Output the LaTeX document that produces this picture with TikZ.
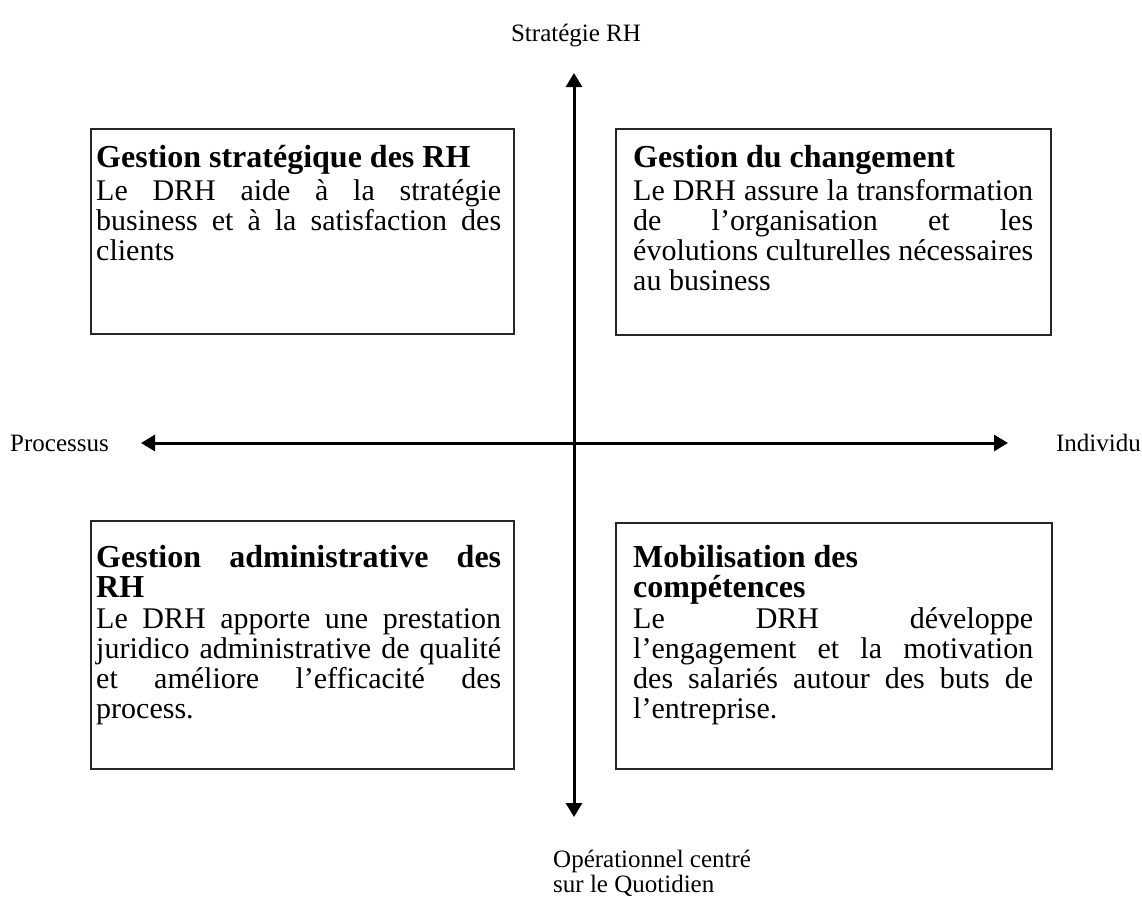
\documentclass[tikz,border=0pt]{standalone}
\usepackage{fontspec}
\setmainfont{Liberation Serif}
\usetikzlibrary{arrows.meta}
\newlength\qw
\newcommand\qj[1]{\makebox[\qw][s]{#1}\par}
\newcommand\ql[1]{\makebox[\qw][l]{#1}\par}
\newcommand\qtitle{\fontsize{32}{30}\selectfont\bfseries}
\newcommand\qbody{\fontsize{30}{30}\selectfont\mdseries}
\newcommand\qtext[2]{\setlength\qw{#1}\parbox[t]{\qw}{\lineskiplimit=-100pt\parskip=0pt\relax #2}}
\tikzset{
  qbox/.style={draw=black!85, line width=2pt, rectangle, inner sep=0pt, anchor=north west},
  qtxt/.style={inner sep=0pt, anchor=base west},
  axislabel/.style={inner sep=0pt, font=\fontsize{25}{28}\selectfont},
  axis/.style={line width=3pt, {Triangle[width=16pt,length=14pt]}-{Triangle[width=16pt,length=14pt]}}
}
\begin{document}
\begin{tikzpicture}[x=1pt,y=-1pt]
\useasboundingbox (0,0) rectangle (1142,900);
% axes
\coordinate (top) at (574,73);
\coordinate (bottom) at (574,817);
\coordinate (left) at (141,443);
\coordinate (right) at (1008,443);
\draw[axis] (bottom) -- (top);
\draw[axis] (left) -- (right);
% axis labels
\node[axislabel, anchor=base] (lstrat) at (576,41) {Stratégie RH};
\node[axislabel, anchor=base west] (lproc) at (10,451) {Processus};
\node[axislabel, anchor=base east] (lindiv) at (1141,451) {Individu};
\node[axislabel, anchor=base west, align=left] (lop) at (553,892) {Opérationnel centré\\[-3pt]sur le Quotidien};
% boxes
\node[qbox, minimum width=423pt, minimum height=205pt] (b1) at (90,128) {};
\node[qbox, minimum width=435pt, minimum height=206pt] (b2) at (615,128) {};
\node[qbox, minimum width=423pt, minimum height=248pt] (b3) at (90,520) {};
\node[qbox, minimum width=436pt, minimum height=246pt] (b4) at (615,522) {};
% box texts
\node[qtxt] (t1) at (96,167) {\qtext{405pt}{%
  {\qtitle\ql{Gestion stratégique des RH}}\vspace{3pt}
  {\qbody\qj{Le DRH aide à la stratégie}
  \qj{business et à la satisfaction des}
  \ql{clients}}}};
\node[qtxt] (t2) at (633,167) {\qtext{400pt}{%
  {\qtitle\ql{Gestion du changement}}\vspace{3pt}
  {\qbody\qj{Le DRH assure la transformation}
  \qj{de l’organisation et les}
  \qj{évolutions culturelles nécessaires}
  \ql{au business}}}};
\node[qtxt] (t3) at (96,567) {\qtext{405pt}{%
  {\qtitle\qj{Gestion administrative des}
  \ql{RH}}\vspace{1pt}
  {\qbody\qj{Le DRH apporte une prestation}
  \qj{juridico administrative de qualité}
  \qj{et améliore l’efficacité des}
  \ql{process.}}}};
\node[qtxt] (t4) at (633,567) {\qtext{400pt}{%
  {\qtitle\ql{Mobilisation des}
  \ql{compétences}}\vspace{1pt}
  {\qbody\qj{Le DRH développe}
  \qj{l’engagement et la motivation}
  \qj{des salariés autour des buts de}
  \ql{l’entreprise.}}}};
\end{tikzpicture}
\end{document}
